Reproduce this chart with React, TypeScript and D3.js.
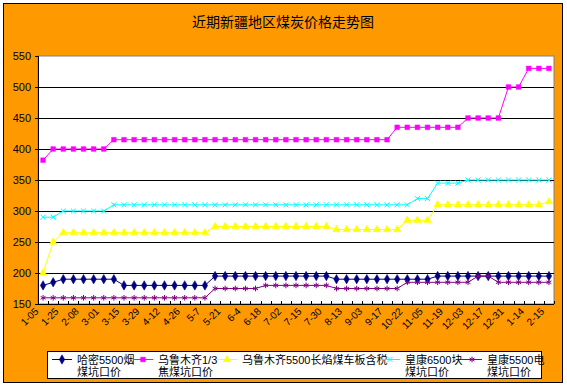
import React from "react";
import * as d3 from "d3";

const title = "近期新疆地区煤炭价格走势图";

// labels shown on every second point
const dateLabels = [
  "1-05", "1-25", "2-08", "3-01", "3-15", "3-29", "4-12", "4-26", "5-7",
  "5-21", "6-4", "6-18", "7-02", "7-15", "7-30", "8-13", "9-03", "9-17",
  "10-22", "11-05", "11-19", "12-03", "12-17", "12-31", "1-14", "2-15",
];

const hami5500 = [
  180, 185, 190, 190, 190, 190, 190, 190, 180, 180, 180, 180, 180, 180, 180,
  180, 180, 195, 195, 195, 195, 195, 195, 195, 195, 195, 195, 195, 195, 190,
  190, 190, 190, 190, 190, 190, 190, 190, 190, 195, 195, 195, 195, 195, 195,
  195, 195, 195, 195, 195, 195,
];
const urumqiCoking = [
  382, 400, 400, 400, 400, 400, 400, 415, 415, 415, 415, 415, 415, 415, 415,
  415, 415, 415, 415, 415, 415, 415, 415, 415, 415, 415, 415, 415, 415, 415,
  415, 415, 415, 415, 415, 435, 435, 435, 435, 435, 435, 435, 450, 450, 450,
  450, 500, 500, 530, 530, 530,
];
const urumqi5500 = [
  200, 250, 265, 265, 265, 265, 265, 265, 265, 265, 265, 265, 265, 265, 265,
  265, 265, 275, 275, 275, 275, 275, 275, 275, 275, 275, 275, 275, 275, 270,
  270, 270, 270, 270, 270, 270, 285, 285, 285, 310, 310, 310, 310, 310, 310,
  310, 310, 310, 310, 310, 315,
];
const huangkang6500 = [
  290, 290, 300, 300, 300, 300, 300, 310, 310, 310, 310, 310, 310, 310, 310,
  310, 310, 310, 310, 310, 310, 310, 310, 310, 310, 310, 310, 310, 310, 310,
  310, 310, 310, 310, 310, 310, 310, 320, 320, 345, 345, 345, 350, 350, 350,
  350, 350, 350, 350, 350, 350,
];
const huangkang5500 = [
  160, 160, 160, 160, 160, 160, 160, 160, 160, 160, 160, 160, 160, 160, 160,
  160, 160, 175, 175, 175, 175, 175, 180, 180, 180, 180, 180, 180, 180, 175,
  175, 175, 175, 175, 175, 175, 185, 185, 185, 185, 185, 185, 185, 195, 195,
  185, 185, 185, 185, 185, 185,
];

const yTicks = [150, 200, 250, 300, 350, 400, 450, 500, 550];

const series = [
  { name: ["哈密5500烟", "煤坑口价"], color: "#000080", values: hami5500, symbol: d3.symbolDiamond, size: 26, filled: true },
  { name: ["乌鲁木齐1/3", "焦煤坑口价"], color: "#FF00FF", values: urumqiCoking, symbol: d3.symbolSquare, size: 22, filled: true },
  { name: ["乌鲁木齐5500长焰煤车板含税"], color: "#FFFF00", values: urumqi5500, symbol: d3.symbolTriangle, size: 24, filled: true },
  { name: ["皇康6500块", "煤坑口价"], color: "#00FFFF", values: huangkang6500, symbol: d3.symbolTimes, size: 18, filled: false },
  { name: ["皇康5500电", "煤坑口价"], color: "#800080", values: huangkang5500, symbol: d3.symbolAsterisk, size: 22, filled: false },
];

const legendX = [52, 133, 217, 380, 462];

export default function App() {
  const W = 567, H = 387;
  const left = 38, right = 554, top = 56, bottom = 304;
  const font = "'Liberation Sans', 'Noto Sans CJK SC', sans-serif";

  const x = d3.scaleBand<number>().domain(d3.range(hami5500.length)).range([left, right]);
  const cx = (i: number) => (x(i) as number) + x.bandwidth() / 2;
  const y = d3.scaleLinear().domain([150, 550]).range([bottom, top]);
  const line = d3.line<number>().x((d, i) => cx(i)).y((d) => y(d));

  const marker = (s: any, px: number, py: number, key: any) => (
    <path
      key={key}
      d={d3.symbol(s.symbol, s.size)() as string}
      transform={`translate(${px},${py})`}
      fill={s.filled ? s.color : "none"}
      stroke={s.color}
      strokeWidth={s.filled ? 0.5 : 1}
    />
  );

  return (
    <svg width={W} height={H} style={{ position: "absolute", left: 0, top: 0 }} fontFamily={font}>
      <rect x={0} y={0} width={W} height={H} fill="#fff" />
      <rect x={3.5} y={3.5} width={559} height={379} fill="#FF9900" stroke="#000" />
      <text x={283} y={27} textAnchor="middle" fontSize={14} fill="#000">{title}</text>

      {/* plot area */}
      <rect x={left} y={top} width={right - left} height={bottom - top} fill="#fff" stroke="#808080" />
      {yTicks.slice(1, -1).map((t) => (
        <line key={t} x1={left} x2={right} y1={Math.round(y(t)) + 0.5} y2={Math.round(y(t)) + 0.5} stroke="#000" />
      ))}
      <line x1={left + 0.5} x2={left + 0.5} y1={top} y2={bottom} stroke="#000" />
      <line x1={left} x2={right} y1={bottom + 0.5} y2={bottom + 0.5} stroke="#000" />
      {yTicks.map((t) => (
        <g key={t}>
          <line x1={left - 3} x2={left} y1={Math.round(y(t)) + 0.5} y2={Math.round(y(t)) + 0.5} stroke="#000" />
          <text x={31} y={y(t) + 4} textAnchor="end" fontSize={11} fill="#000">{t}</text>
        </g>
      ))}
      {d3.range(hami5500.length + 1).map((i) => {
        const tx = Math.round(left + i * x.step()) + 0.5;
        return <line key={i} x1={tx} x2={tx} y1={bottom - 3} y2={bottom} stroke="#000" />;
      })}
      {dateLabels.map((lab, k) => {
        const px = cx(k * 2) - 4;
        return (
          <text key={k} transform={`translate(${px},312) rotate(-45)`} textAnchor="end" fontSize={10} fill="#000">
            {lab}
          </text>
        );
      })}

      {series.map((s, si) => (
        <g key={si}>
          <path d={line(s.values) as string} fill="none" stroke={s.color} strokeWidth={1} />
          {s.values.map((v, i) => marker(s, cx(i), y(v), i))}
        </g>
      ))}

      {/* legend */}
      <rect x={47.5} y={351.5} width={494} height={27} fill="#fff" stroke="#000" />
      {series.map((s, si) => {
        const lx = legendX[si];
        return (
          <g key={si}>
            <line x1={lx} x2={lx + 20} y1={359.5} y2={359.5} stroke={s.color} />
            {marker(s, lx + 10, 359.5, "m")}
            {s.name.map((t, j) => (
              <text key={j} x={lx + 25} y={364 + j * 12} fontSize={11} fill="#000">{t}</text>
            ))}
          </g>
        );
      })}
    </svg>
  );
}
